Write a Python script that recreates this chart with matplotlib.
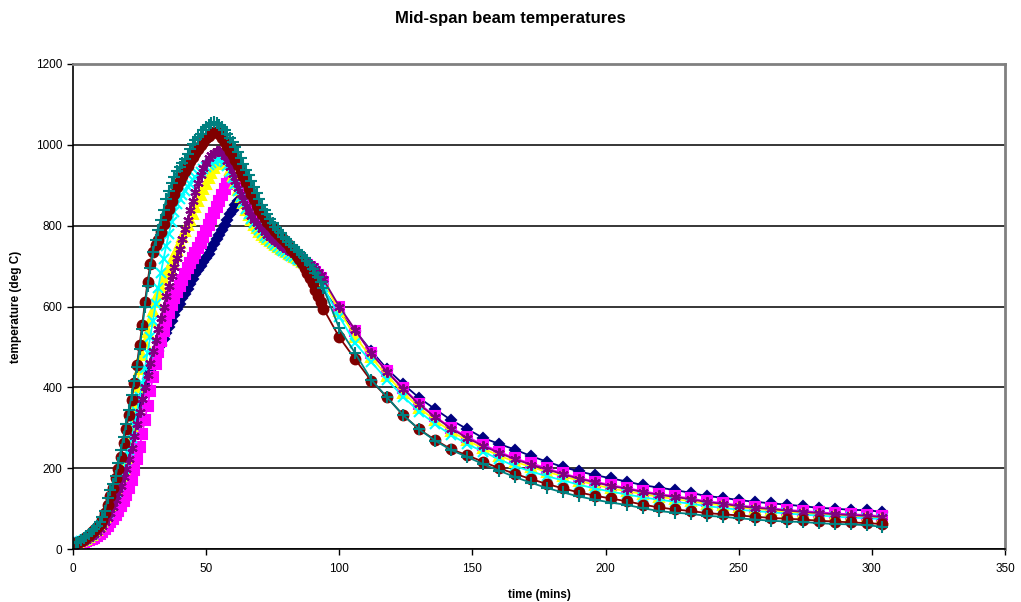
import matplotlib
matplotlib.use("Agg")
import matplotlib.pyplot as plt

plt.rcParams['font.family'] = ['Liberation Sans', 'DejaVu Sans']

# time axis: every minute up to 94, then every 6 minutes
time = list(range(0, 95)) + list(range(100, 305, 6))

navy = [14, 15, 16, 18, 21, 25, 29, 34, 40, 47,
        55, 65, 77, 92, 108, 125, 143, 162, 182, 203,
        226, 250, 275, 300, 325, 350, 375, 398, 420, 440,
        458, 474, 490, 505, 520, 535, 550, 565, 580, 594,
        607, 620, 632, 644, 656, 668, 680, 690, 700, 710,
        720, 731, 742, 754, 766, 778, 790, 802, 815, 828,
        840, 851, 860, 862, 858, 850, 840, 828, 816, 805,
        795, 786, 778, 771, 765, 759, 754, 749, 744, 739,
        734, 729, 724, 719, 714, 709, 703, 697, 691, 684,
        677, 669, 661, 652, 643,
        585, 540, 490, 445, 408, 374, 346, 319, 297, 275,
        260, 246, 230, 216, 203, 192, 183, 175, 167, 158,
        152, 146, 139, 131, 127, 121, 117, 113, 110, 106,
        102, 100, 97, 96, 92]

magenta = [13, 14, 15, 16, 18, 20, 22, 25, 28, 32,
           36, 42, 50, 58, 66, 75, 85, 95, 106, 118,
           134, 152, 172, 195, 222, 252, 285, 320, 355, 390,
           425, 458, 488, 515, 540, 563, 584, 603, 620, 636,
           651, 665, 680, 695, 708, 720, 732, 745, 758, 772,
           787, 802, 817, 832, 847, 862, 876, 890, 902, 912,
           918, 915, 905, 892, 877, 861, 845, 830, 817, 805,
           795, 786, 778, 771, 765, 760, 755, 750, 745, 740,
           735, 731, 727, 723, 719, 715, 711, 707, 703, 698,
           692, 686, 678, 670, 660,
           598, 540, 486, 440, 398, 360, 328, 300, 278, 258,
           241, 224, 212, 200, 187, 176, 167, 158, 151, 143,
           136, 131, 125, 118, 114, 108, 104, 101, 97, 94,
           91, 88, 86, 84, 81]

yellow = [15, 16, 17, 19, 22, 26, 30, 35, 41, 48,
          56, 66, 78, 93, 110, 128, 148, 165, 180, 198,
          225, 262, 305, 352, 400, 445, 480, 510, 538, 563,
          588, 610, 630, 648, 665, 681, 696, 711, 726, 741,
          756, 771, 786, 801, 815, 830, 845, 860, 875, 890,
          904, 918, 930, 942, 952, 960, 965, 962, 952, 938,
          922, 905, 888, 871, 855, 840, 826, 813, 802, 793,
          785, 778, 772, 766, 761, 756, 751, 747, 743, 739,
          735, 731, 727, 723, 719, 715, 711, 707, 702, 697,
          691, 685, 678, 670, 661,
          590, 525, 474, 428, 387, 350, 318, 291, 269, 249,
          231, 216, 203, 191, 180, 169, 159, 150, 143, 136,
          129, 124, 118, 112, 108, 103, 99, 96, 92, 89,
          86, 84, 82, 80, 77]

cyan = [15, 16, 17, 19, 22, 25, 29, 34, 40, 47,
        55, 64, 75, 88, 103, 120, 138, 157, 177, 197,
        220, 246, 275, 307, 340, 375, 410, 447, 485, 525,
        565, 605, 645, 683, 718, 750, 780, 808, 833, 853,
        867, 877, 887, 896, 904, 912, 920, 927, 934, 940,
        946, 951, 956, 960, 964, 966, 965, 958, 947, 933,
        918, 902, 886, 870, 855, 841, 828, 816, 806, 797,
        789, 782, 775, 769, 763, 758, 753, 748, 743, 738,
        734, 730, 726, 722, 718, 714, 710, 705, 700, 694,
        687, 679, 670, 660, 648,
        575, 509, 463, 418, 377, 340, 309, 282, 260, 241,
        222, 205, 192, 180, 170, 159, 150, 142, 135, 128,
        122, 117, 112, 106, 102, 97, 94, 91, 88, 85,
        83, 80, 78, 76, 74]

purple = [14, 15, 16, 18, 20, 23, 27, 31, 36, 42,
          49, 57, 66, 77, 90, 105, 121, 138, 157, 177,
          198, 222, 250, 280, 310, 340, 370, 400, 430, 460,
          490, 518, 545, 572, 600, 626, 651, 675, 697, 720,
          743, 767, 791, 815, 839, 862, 883, 905, 925, 942,
          956, 967, 975, 981, 984, 985, 981, 972, 959, 944,
          928, 911, 894, 878, 863, 849, 836, 825, 815, 806,
          798, 791, 784, 778, 772, 767, 762, 757, 752, 747,
          743, 739, 735, 731, 727, 723, 719, 715, 711, 706,
          700, 694, 686, 677, 667,
          600, 542, 484, 438, 396, 358, 326, 298, 275, 255,
          238, 222, 209, 197, 185, 174, 165, 156, 149, 141,
          134, 129, 123, 116, 112, 106, 102, 99, 95, 92,
          89, 86, 84, 82, 79]

maroon = [15, 16, 18, 21, 25, 30, 35, 41, 47, 54,
          62, 73, 88, 108, 130, 152, 175, 198, 228, 262,
          298, 332, 368, 410, 455, 505, 555, 610, 660, 705,
          735, 752, 765, 785, 805, 825, 842, 860, 878, 895,
          910, 922, 935, 948, 960, 970, 980, 990, 999, 1008,
          1016, 1023, 1029, 1032, 1031, 1026, 1018, 1008, 996, 985,
          975, 962, 949, 936, 922, 908, 893, 879, 865, 852,
          840, 828, 818, 809, 801, 794, 787, 780, 773, 766,
          759, 751, 743, 735, 726, 717, 707, 696, 684, 671,
          657, 642, 627, 611, 595,
          524, 469, 416, 375, 331, 296, 270, 247, 232, 216,
          200, 186, 173, 161, 150, 140, 132, 125, 118, 110,
          103, 98, 94, 89, 86, 83, 80, 77, 75, 73,
          70, 68, 66, 64, 62]

teal = [15, 16, 18, 22, 27, 32, 38, 44, 50, 57,
        66, 78, 95, 125, 145, 160, 180, 212, 245, 278,
        310, 345, 380, 415, 450, 495, 545, 600, 650, 695,
        735, 765, 790, 815, 840, 865, 885, 905, 920, 935,
        945, 955, 965, 977, 990, 1002, 1012, 1020, 1028, 1036,
        1044, 1050, 1055, 1057, 1055, 1050, 1045, 1037, 1028, 1018,
        1008, 995, 982, 968, 953, 938, 925, 910, 895, 880,
        866, 852, 840, 828, 817, 806, 797, 789, 781, 773,
        766, 759, 752, 746, 740, 734, 727, 720, 712, 703,
        694, 684, 672, 660, 646,
        546, 484, 419, 375, 331, 296, 268, 245, 228, 210,
        194, 178, 164, 151, 140, 130, 122, 115, 109, 101,
        94, 90, 87, 82, 80, 76, 73, 70, 68, 67,
        64, 62, 61, 59, 55]

series = [
    (navy, '#000080', 'D', 5.5),
    (magenta, '#FF00FF', 's', 6.5),
    (yellow, '#FFFF00', '^', 7),
    (cyan, '#00FFFF', 'x', 6.5),
    (purple, '#800080', (6, 2, 0), 7.5),
    (maroon, '#800000', 'o', 7),
    (teal, '#008080', '+', 8),
]

fig = plt.figure(figsize=(10.21, 6.02), dpi=100)
ax = fig.add_axes([0.0715, 0.088, 0.9128, 0.8057])

for vals, col, mk, ms in series:
    ax.plot(time, vals, color=col, lw=1.3, marker=mk, ms=ms,
            mfc=col, mec=col, mew=1.5)

ax.set_xlim(0, 350)
ax.set_ylim(0, 1200)
ax.set_xticks(range(0, 351, 50))
ax.set_yticks(range(0, 1201, 200))
ax.yaxis.grid(True, color='black', lw=1.1)
ax.set_axisbelow(True)
ax.tick_params(labelsize=8.5, length=4, width=1, direction='out')
ax.tick_params(axis='x', pad=6)

for s in ['top', 'right']:
    ax.spines[s].set_color('#808080')
    ax.spines[s].set_linewidth(2)
for s in ['left', 'bottom']:
    ax.spines[s].set_color('black')
    ax.spines[s].set_linewidth(1.2)

ax.set_xlabel('time (mins)', fontsize=8.5, fontweight='bold', labelpad=10)
ax.set_ylabel('temperature (deg C)', fontsize=8.5, fontweight='bold', labelpad=10)
fig.text(0.5, 0.97, 'Mid-span beam temperatures', ha='center', va='center',
         fontsize=12, fontweight='bold')

fig.savefig('out.png', dpi=100)
